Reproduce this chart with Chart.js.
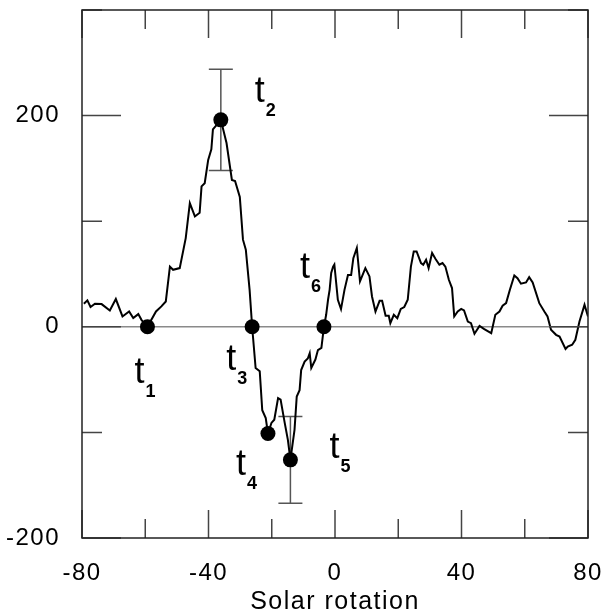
<!DOCTYPE html>
<html>
<head>
<meta charset="utf-8">
<script src="https://cdn.jsdelivr.net/npm/chart.js@4/dist/chart.umd.min.js"></script>
<style>
  html, body { margin: 0; padding: 0; background: #fff; }
  #wrap { width: 602px; height: 615px; }
</style>
</head>
<body>
<div id="wrap"><canvas id="c" width="602" height="615"></canvas></div>
<script>
// ---- data ----
const rotX = [-79.4,-78.3,-77.3,-75.9,-73.8,-71.2,-69.3,-67.2,-65.1,-63.8,-62.2,-61.2,-59.3,-56.6,-54.9,-53.5,-52.2,-51.2,-49.1,-47.2,-45.9,-44.3,-42.8,-42.2,-41.2,-40.1,-39.1,-38.6,-36.1,-34.3,-32.6,-31.6,-30.1,-29.1,-28.2,-27.0,-26.2,-25.1,-23.8,-23.0,-21.9,-21.2,-20.1,-19.2,-18.0,-17.2,-15.9,-14.9,-14.1,-12.8,-12.1,-11.2,-10.7,-9.6,-8.6,-8.0,-7.5,-6.2,-5.4,-4.3,-3.5,-2.8,-2.2,-1.7,-1.2,-0.6,-0.2,0.9,1.9,3.0,4.1,5.1,5.8,6.9,7.9,9.6,10.9,11.7,12.8,14.1,14.9,16.0,17.0,17.5,18.6,19.7,20.8,21.9,23.0,24.0,24.9,25.8,27.2,27.9,28.8,29.6,30.7,31.8,33.0,34.0,34.9,36.0,37.0,37.7,38.8,39.9,40.8,42.0,43.0,44.1,45.7,47.2,49.4,50.7,52.0,53.0,54.1,55.3,56.7,57.7,58.8,60.4,61.4,62.5,64.6,66.2,67.2,68.3,69.9,71.0,72.9,73.6,75.0,76.0,77.3,78.9,80.0];
const rotY = [21.8,25,18.7,21.8,21.5,15.5,26.3,9.8,14.5,8.2,12,6.6,0,14.5,19.3,24,57,54,55.6,84,117,104.5,108,133,136,158,168,187,196,174,139,138,123,82.5,73,35,0,-39,-42,-79,-86.5,-101,-91,-88,-67.6,-69,-91,-107,-126,-97.6,-66,-60,-41,-33,-30,-25,-39,-31,-22,-20,0,11.4,25.6,35,51,57,59,25.6,16.8,35,49,49,65,74.6,43,55.6,47.7,28.7,14.5,24.6,24.6,10.4,10.4,3.5,11.4,8.2,17,18.7,25.6,57,71.4,71.4,60.4,58.8,63.5,55.6,69.9,64.2,58.8,60.4,57,44.5,36.7,9.8,14.5,17,15.5,5,3.5,-6.6,0.9,-2.2,-6,11.4,14.5,20,22.4,35,48.6,46,40.8,42,47,42,22.4,14.5,9.8,-2.8,-7.6,-9.2,-21,-18.7,-17,-12.3,5,20.8,9.8];

// marked instants t1..t6
const eventNames = ['1','2','3','4','5','6'];
const eventX = [-59.3,-36.1,-26.2,-21.2,-14.1,-3.5];
const eventY = [0,196,0,-101,-126,0];
const eventErr = [0,48,0,0,41,0];

// axes
const xMin = -80, xMax = 80, xStep = 20, xLabelStep = 40;
const yMin = -200, yMax = 300, yStep = 100, yLabelStep = 200;
const xTitle = 'Solar rotation';

// ---- chart ----
const FONT = '"Liberation Sans", Arial, sans-serif';

function noPad(s) {
  s.paddingLeft = 0; s.paddingRight = 0; s.paddingTop = 0; s.paddingBottom = 0;
}

const decor = {
  id: 'decor',
  beforeDraw(chart) {
    chart.ctx.letterSpacing = '1.5px';
  },
  beforeDatasetsDraw(chart) {
    const {ctx, chartArea: a, scales: {x, y}} = chart;
    ctx.save();
    ctx.letterSpacing = '0px';
    // zero line
    const y0 = y.getPixelForValue(0);
    ctx.strokeStyle = '#8a8a8a';
    ctx.lineWidth = 1.5;
    ctx.beginPath();
    ctx.moveTo(a.left, y0); ctx.lineTo(a.right, y0);
    ctx.stroke();
    // error bars
    ctx.strokeStyle = '#555';
    ctx.lineWidth = 1.5;
    eventX.forEach((ex, i) => {
      const e = eventErr[i];
      if (!e) return;
      const px = x.getPixelForValue(ex);
      const top = y.getPixelForValue(eventY[i] + e);
      const bot = y.getPixelForValue(eventY[i] - e);
      ctx.beginPath();
      ctx.moveTo(px, top); ctx.lineTo(px, bot);
      ctx.moveTo(px - 12, top); ctx.lineTo(px + 12, top);
      ctx.moveTo(px - 12, bot); ctx.lineTo(px + 12, bot);
      ctx.stroke();
    });
    ctx.restore();
  },
  afterDatasetsDraw(chart) {
    const {ctx, chartArea: a, scales: {x, y}} = chart;
    ctx.save();
    ctx.letterSpacing = '0px';
    // inward ticks
    ctx.strokeStyle = '#444';
    ctx.lineWidth = 1.5;
    ctx.beginPath();
    x.ticks.forEach(t => {
      const px = x.getPixelForValue(t.value);
      const len = (t.value % xLabelStep === 0) ? 28 : 19;
      ctx.moveTo(px, a.top); ctx.lineTo(px, a.top + len);
      ctx.moveTo(px, a.bottom); ctx.lineTo(px, a.bottom - len);
    });
    y.ticks.forEach(t => {
      const py = y.getPixelForValue(t.value);
      const len = (t.value % yLabelStep === 0) ? 39 : 20;
      ctx.moveTo(a.left, py); ctx.lineTo(a.left + len, py);
      ctx.moveTo(a.right, py); ctx.lineTo(a.right - len, py);
    });
    ctx.stroke();
    // frame
    ctx.strokeStyle = '#222';
    ctx.lineWidth = 1.5;
    ctx.strokeRect(a.left, a.top, a.right - a.left, a.bottom - a.top);

    // t labels
    const offs = [[-13,56],[34,-18],[-26,43],[-32,42],[39,-2],[-24,-49]];
    ctx.fillStyle = '#000';
    ctx.textAlign = 'left';
    ctx.textBaseline = 'alphabetic';
    eventNames.forEach((n, i) => {
      const px = x.getPixelForValue(eventX[i]) + offs[i][0];
      const py = y.getPixelForValue(eventY[i]) + offs[i][1];
      ctx.font = '36px ' + FONT;
      ctx.fillText('t', px, py);
      ctx.font = 'bold 18px ' + FONT;
      ctx.fillText(n, px + 11, py + 14);
    });
    ctx.restore();
  }
};

new Chart(document.getElementById('c'), {
  type: 'scatter',
  data: {
    datasets: [
      {
        data: rotX.map((v, i) => ({x: v, y: rotY[i]})),
        showLine: true,
        borderColor: '#000',
        borderWidth: 2,
        pointRadius: 0,
        tension: 0,
        order: 2
      },
      {
        data: eventX.map((v, i) => ({x: v, y: eventY[i]})),
        showLine: false,
        pointRadius: 7.5,
        pointBackgroundColor: '#000',
        pointBorderColor: '#000',
        pointBorderWidth: 0,
        order: 1
      }
    ]
  },
  options: {
    responsive: false,
    animation: false,
    events: [],
    layout: { padding: { top: 10, right: 14, left: 0, bottom: 0 } },
    plugins: { legend: { display: false }, tooltip: { enabled: false } },
    scales: {
      x: {
        type: 'linear',
        min: xMin, max: xMax,
        grid: { display: false, drawTicks: false },
        border: { display: false },
        ticks: {
          stepSize: xStep,
          autoSkip: false,
          maxRotation: 0,
          padding: 21,
          color: '#000',
          font: { family: FONT, size: 24 },
          callback: v => (v % xLabelStep === 0 ? String(v) : '')
        },
        title: {
          display: true,
          text: xTitle,
          color: '#000',
          font: { family: FONT, size: 25, lineHeight: 1 },
          padding: { top: 0, bottom: 0 }
        },
        afterFit: s => { s.height = 77; noPad(s); }
      },
      y: {
        type: 'linear',
        min: yMin, max: yMax,
        grid: { display: false, drawTicks: false },
        border: { display: false },
        ticks: {
          stepSize: yStep,
          padding: 22,
          color: '#000',
          font: { family: FONT, size: 24 },
          callback: v => (v % yLabelStep === 0 ? String(v) : '')
        },
        afterFit: s => { s.width = 82; noPad(s); }
      }
    }
  },
  plugins: [decor]
});
</script>
</body>
</html>
